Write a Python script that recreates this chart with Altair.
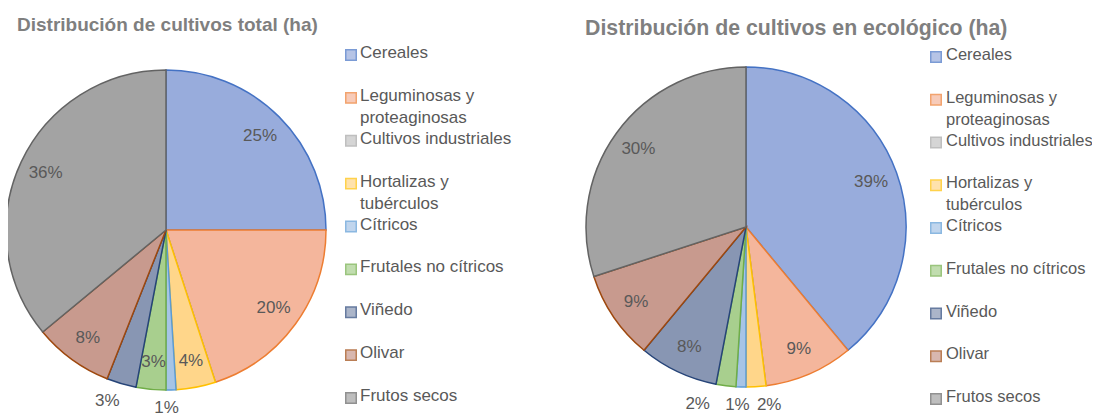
import altair as alt
import pandas as pd

categories = ["Cereales", "Leguminosas y proteaginosas", "Cultivos industriales",
              "Hortalizas y tubérculos", "Cítricos", "Frutales no cítricos",
              "Viñedo", "Olivar", "Frutos secos"]
legend_lines = ["Cereales", "Leguminosas y\nproteaginosas", "Cultivos industriales",
                "Hortalizas y\ntubérculos", "Cítricos", "Frutales no cítricos",
                "Viñedo", "Olivar", "Frutos secos"]
total_pct = [25, 20, 0, 4, 1, 3, 3, 8, 36]
eco_pct = [39, 9, 0, 2, 1, 2, 8, 9, 30]
total_outside = ["Cítricos", "Viñedo"]
eco_outside = ["Hortalizas y tubérculos", "Cítricos", "Frutales no cítricos"]

fills = ["#98ACDC", "#F4B69C", "#C4C4C4", "#FFD68A", "#A6C4E6", "#A8CF8E",
         "#8896B3", "#C89A8E", "#A3A3A3"]
strokes = ["#4472C4", "#ED7D31", "#A5A5A5", "#FFC000", "#5B9BD5", "#70AD47",
           "#264478", "#9E480E", "#636363"]

FONT = "Liberation Sans Narrow, Arial Narrow, Liberation Sans, Arial"
TXT = "#595959"


def panel(values, outside, title, tsize, lsize, cx, cy, tx, ty, sqx, lx, y0, y8, nudges):
    df = pd.DataFrame({"cat": categories, "legend": legend_lines,
                       "idx": list(range(len(categories))), "value": values,
                       "out": [c in outside for c in categories]})
    color = alt.Color("cat:N", scale=alt.Scale(domain=categories, range=fills), legend=None)
    stroke = alt.Stroke("cat:N", scale=alt.Scale(domain=categories, range=strokes), legend=None)
    base = alt.Chart(df).encode(theta=alt.Theta("value:Q", stack=True),
                                order=alt.Order("idx:Q"))
    arcs = base.mark_arc(radius=160, strokeWidth=1.5).encode(
        color=color, stroke=stroke, x=alt.value(cx), y=alt.value(cy))
    inner = base.transform_calculate(
        lab="!datum.out && datum.value > 0 ? datum.value + '%' : ''"
    ).mark_text(radius=133, font=FONT, fontSize=17, color=TXT).encode(
        text="lab:N", x=alt.value(cx), y=alt.value(cy))
    layers = [arcs, inner]
    for c in outside:
        layers.append(base.transform_calculate(
            lab=f"datum.cat == '{c}' ? datum.value + '%' : ''"
        ).mark_text(radius=178, dx=nudges.get(c, 0), font=FONT, fontSize=17, color=TXT).encode(
            text="lab:N", x=alt.value(cx), y=alt.value(cy)))
    ysc = alt.Scale(domain=[0, 8], range=[y0, y8])
    squares = alt.Chart(df).mark_square(size=110, strokeWidth=1.5).encode(
        x=alt.value(sqx), y=alt.Y("idx:Q", scale=ysc, axis=None),
        color=color, stroke=stroke)
    ltext = alt.Chart(df).mark_text(align="left", baseline="top", dy=-10, lineBreak="\n",
                                    lineHeight=22, font=FONT, fontSize=lsize, color=TXT).encode(
        x=alt.value(lx), y=alt.Y("idx:Q", scale=ysc, axis=None), text="legend:N")
    ttl = alt.Chart(pd.DataFrame({"t": [title]})).mark_text(
        align="left", baseline="alphabetic", font=FONT, fontSize=tsize, fontWeight="bold",
        color="#7F7F7F").encode(x=alt.value(tx), y=alt.value(ty), text="t:N")
    return layers + [squares, ltext, ttl]


left = panel(total_pct, total_outside, "Distribución de cultivos total (ha)", 19, 17,
             158, 222, 9, 23, 343, 352, 47, 390,
             {"Viñedo": -9, "Cítricos": -5})
right = panel(eco_pct, eco_outside, "Distribución de cultivos en ecológico (ha)", 21.3, 16.5,
              738, 219, 577, 27, 928, 938, 49, 391,
              {"Hortalizas y tubérculos": 12, "Cítricos": -3, "Frutales no cítricos": -26})

chart = alt.layer(*left, *right).resolve_scale(y="independent").properties(
    width=1084, height=408, padding=0,
    autosize=alt.AutoSizeParams(type="none")
).configure_view(stroke=None)
chart.save("out.html", embed_options={"renderer": "svg", "actions": False})
